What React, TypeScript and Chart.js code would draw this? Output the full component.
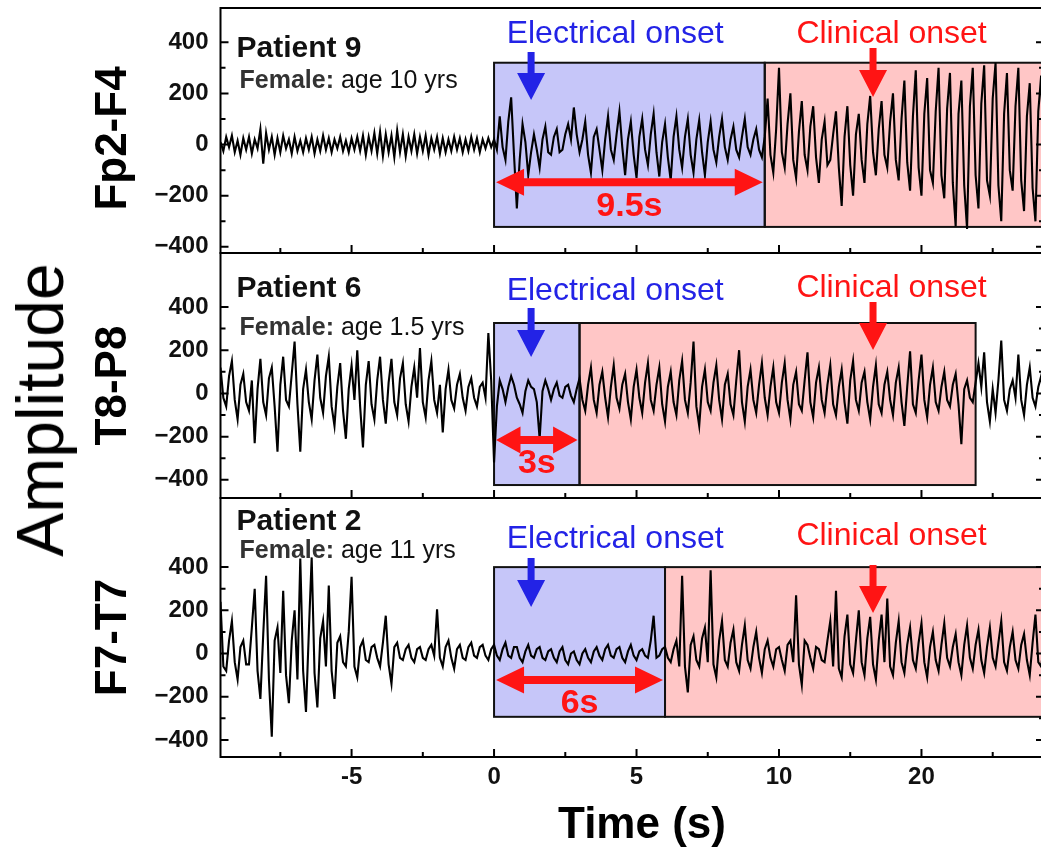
import React, { useEffect, useRef } from 'react';
import { Chart, registerables } from 'chart.js';

Chart.register(...registerables);

const FONT = '"Liberation Sans", Arial, Helvetica, sans-serif';

// ---- sampling of the traces (seconds) ----
const T_START = -9.6;
const T_STEP = 0.1;

// ---- EEG traces (amplitude) ----
const fp2f4 = [
  10, -25, 30, -10, 35, -30, 15, -40, 25, -20,
  30, -35, 20, -15, 60, -75, 45, -20, 30, -40,
  25, -30, 35, -15, 20, -35, 30, -25, 15, -30,
  25, -20, 30, -35, 20, -25, 35, -20, 25, -30,
  20, -15, 30, -25, 15, -30, 25, -20, 30, -25,
  35, -40, 30, -25, 45, -35, 50, -45, 40, -30,
  35, -50, 55, -30, 40, -45, 30, -25, 40, -35,
  30, -25, 35, -40, 25, -20, 30, -35, 25, -30,
  20, -25, 30, -20, 25, -30, 20, -25, 30, -20,
  25, -30, 20, -15, 25, -10,
  20, -20, 110, -10, -60, 90, 185, -40, -250, -60,
  80, 10, -120, -30, 40, -20, -90, 20, 70, -30,
  -40, 30, 60, -30, -20, 40, 80, 20, 145, 40,
  -30, 20, 90, -40, -110, 30, 60, -20, -100, 20,
  110, -20, -60, 40, 130, -10, -120, 20, 90, -40,
  -130, 30, 100, -20, -80, 40, 120, -30, -125, 10,
  80, -50, -140, 30, 110, -20, -90, 30, 100, -40,
  -110, 20, 95, -30, -120, 10, 90, -20, -70, 30,
  100, -10, -60, 20, 70, -20, -50, 30, 100, -10,
  -40, 20, 60, -20, -50, 30,
  180, -40, -110, 60, 300, -30, -90, 80, 200, -60,
  -130, 50, 170, -40, -100, 70, 150, -50, -150, 20,
  90, -80, -60, 40, 130, -90, -240, 30, 150, -80,
  -200, 40, 120, -60, -150, 80, 190, -30, -120, 60,
  170, -40, -90, 90, 200, -60, -140, 100, 250, -70,
  -180, 110, 290, -90, -200, 120, 260, -100, -150, 130,
  300, -120, -210, 140, 280, -150, -320, 120, 250, -160,
  -330, 150, 300, -120, -250, 160, 310, -140, -200, 180,
  320, -160, -300, 120, 280, -100, -180, 150, 300, -140,
  -260, 110, 240, -170, -300, 130, 270, -90, -150,
];
const t8p8 = [
  120, -20, -60, 80, 150, -30, -120, 40, 90, -40,
  -80, 60, -230, 20, 160, -40, -100, 70, 120, -60,
  -270, 40, 170, -30, -60, 90, 240, -50, -270, 20,
  110, -40, -120, 60, 180, -20, -90, 80, 170, -60,
  -150, 30, 140, -80, -210, 20, 130, -30, 200, -60,
  -250, 40, 150, -50, -120, 60, 170, -30, -140, 50,
  160, -40, -100, 70, 140, -50, -130, 30, 120, -20,
  210, -40, -110, 60, 150, -30, -90, 40, -180, 20,
  110, -30, -70, 40, 90, -20, -80, 30, 70, -20,
  -60, 30, 50, -20, 280, 60,
  -320, -60, 60, 20, -40, 30, 80, 40, -20, -50,
  -90, 10, 60, 30, 20, -40, -210, 10, 60, 20,
  -30, 20, 50, -10, -20, 30, 40, -10, -40, 20,
  70, -30, -80, 40, 120, -30, -90, 40, 100, -20,
  -110, 30, 130, -20, -70, 40, 90, -40, -120, 30,
  110, -20, -90, 50, 140, -30, -80, 40, 120, -50,
  -130, 30, 100, -40, -100, 60, 150, -30, -90, 50,
  240, -60, -150, 30, 110, -40, -80, 50, 130, -30,
  -120, 40, 90, -50, -100, 60, 200, -40, -130, 30,
  110, -30, -90, 40, 140, -20,
  -100, 30, 120, -40, -90, 50, 140, -30, -120, 40,
  100, -50, -80, 60, 190, -40, -110, 50, 120, -30,
  -90, 40, 130, -50, -100, 30, 110, -40, -140, 60,
  150, -30, -80, 50, 100, -40, -120, 30, 130, -50,
  -90, 40, 100, -30, -100, 50, 120, -40, -150, 30,
  195, -50, -90, 60, 180, -30, -110, 40, 120, -40,
  -80, 30, 100, -30, -60, 40, 90, -50, -235, 20,
  60, -20, -40, 50, 140, 30, 190, -40, -130, 20,
  -90, 60, 245, -30, -80, 20, 60, -20, 180, -30,
  -100, 40, 120, -20, -60, 30, 80, -20, -40,
];
const f7t7 = [
  240, -60, -80, 60, 150, -40, -120, 30, 60, -50,
  -50, 120, 300, -80, -210, 90, 360, -120, -385, 60,
  120, -90, 290, -100, -230, 60, 200, -120, 440, -80,
  -270, 100, 445, -90, -250, 70, 150, -60, 315, -80,
  -210, 50, 80, -40, -60, 100, 355, -60, -110, 30,
  60, -30, -40, 30, 40, -20, -60, 50, 175, -50,
  -140, 30, 50, -20, -30, 20, 40, -20, -40, 20,
  30, -20, -30, 20, 40, -10, 205, -20, -60, 30,
  60, -20, -70, 20, 40, -20, -30, 30, 50, -10,
  -20, 30, 40, -10, -30, 20,
  40, -10, -30, 20, 50, -10, -20, 30, 30, -20,
  -40, 10, 40, -10, -20, 20, 30, -20, -30, 10,
  20, -20, -40, 10, 30, -30, -50, 0, 10, -30,
  -50, 0, 20, -20, -40, 10, 30, -10, -30, 20,
  40, -10, -20, 20, 30, -20, -40, 10, 40, -10,
  -30, 10, 20, -10, -20, 60, 175, -20, -10, 20,
  30, -20, -40, 20, 60, -60, 360, -60, -180, 40,
  80, -30, -60, 70, 120, -40, 385, -50, -110, 60,
  150, -30, -60, 50, 110, -40, -80, 40, 130, -30,
  -70, 30, 100, -20, -90, 20,
  60, -20, -60, 20, 30, -30, -80, 40, 60, -40,
  270, -50, -145, 60, 40, -20, -70, 30, 20, -30,
  -40, 60, 150, -60, 290, -70, -110, 80, 180, -50,
  -90, 60, 200, -40, -100, 70, 170, -50, -120, 60,
  180, -40, 255, -60, -100, 50, 150, -40, -90, 40,
  120, -30, -70, 50, 140, -40, -110, 30, 100, -30,
  -80, 40, 140, -20, -60, 30, 90, -40, -100, 40,
  130, -20, -70, 40, 110, -30, -90, 30, 120, -20,
  -60, 50, 150, -40, -80, 30, 100, -30, -70, 40,
  90, -30, -100, 50, 180, -40, -60, 40, 120,
];

// ---- panel descriptions ----
const channelNames = ['Fp2-F4', 'T8-P8', 'F7-T7'];
const patientNames = ['Patient 9', 'Patient 6', 'Patient 2'];
const patientSex = ['Female:', 'Female:', 'Female:'];
const patientAges = ['age 10 yrs', 'age 1.5 yrs', 'age 11 yrs'];
const electricalLabel = 'Electrical onset';
const clinicalLabel = 'Clinical onset';
const delaySeconds = [9.5, 3, 6];
const delayLabels = ['9.5s', '3s', '6s'];
const clinicalBoxEnd = [20, 16.9, 20];
const boxTopValues = [320, 326, 400];
const boxBottomValues = [-322, -424, -293];
const delayArrowValues = [-147, -215, -123];
const electricalArrowTimes = [1.3, 1.3, 1.3];
const clinicalArrowTimes = [13.3, 13.3, 13.3];

// ---- axes ----
const yMinValues = [-424, -484, -479];
const yMaxValues = [534, 650, 720];
const yMajorTicks = [-400, -200, 0, 200, 400];
const yMinorTicks = [-300, -100, 100, 300];
const xMajorTicks = [-5, 0, 5, 10, 15];
const xTickLabels = ['-5', '0', '5', '10', '20'];
const xMinorTicks = [-7.5, -2.5, 2.5, 7.5, 12.5, 17.5];
const X_MIN = -9.6;
const X_MAX = 19.3;
const xTitle = 'Time (s)';
const yTitle = 'Amplitude';

// ---- layout / style (pixels) ----
const LAYOUT = {
  panelWeights: [245, 245, 259],
  textLeft: 16,
  patientBase: [48.7, 43.7, 32],
  sexBase: [80.3, 82, 60.3],
  elecBase: [35.3, 47, 50.3],
  clinBase: [35.3, 43.7, 47],
  elecArrow: [[44, 92], [55, 104], [60, 109]],
  clinArrow: [[40, 89], [49, 97], [67, 115]],
  elecLabelT: 4.25,
  clinLabelT: 13.95,
  channelX: 114,
  channelDy: [8, 10, 10],
  xTitleX: 642,
  xTitleBase: 838,
};
const BLUE_FILL = '#c6c6f9';
const PINK_FILL = '#ffc6c6';
const BLUE = '#2323e6';
const RED = '#ff1414';

function downArrow(ctx: CanvasRenderingContext2D, x: number, y0: number, y1: number, color: string) {
  const hl = 27, hw = 14, sw = 3.5;
  ctx.fillStyle = color;
  ctx.beginPath();
  ctx.moveTo(x - sw, y0);
  ctx.lineTo(x + sw, y0);
  ctx.lineTo(x + sw, y1 - hl);
  ctx.lineTo(x + hw, y1 - hl);
  ctx.lineTo(x, y1);
  ctx.lineTo(x - hw, y1 - hl);
  ctx.lineTo(x - sw, y1 - hl);
  ctx.closePath();
  ctx.fill();
}

function doubleArrow(ctx: CanvasRenderingContext2D, xa: number, xb: number, y: number, color: string) {
  const hl = Math.min(28, (xb - xa) * 0.3), hh = 13.5, sh = 4;
  ctx.fillStyle = color;
  ctx.beginPath();
  ctx.moveTo(xa, y);
  ctx.lineTo(xa + hl, y - hh);
  ctx.lineTo(xa + hl, y - sh);
  ctx.lineTo(xb - hl, y - sh);
  ctx.lineTo(xb - hl, y - hh);
  ctx.lineTo(xb, y);
  ctx.lineTo(xb - hl, y + hh);
  ctx.lineTo(xb - hl, y + sh);
  ctx.lineTo(xa + hl, y + sh);
  ctx.lineTo(xa + hl, y + hh);
  ctx.closePath();
  ctx.fill();
}

const eegPlugin = {
  id: 'eegAnnotations',
  beforeDatasetsDraw(chart: any) {
    const { ctx, chartArea: ca, scales } = chart;
    const xs = scales.x;
    ctx.save();
    ctx.beginPath();
    ctx.rect(ca.left, ca.top, ca.right - ca.left, ca.bottom - ca.top);
    ctx.clip();
    for (let p = 0; p < 3; p++) {
      const ys = scales['y' + p];
      const x0 = xs.getPixelForValue(0);
      const x1 = xs.getPixelForValue(delaySeconds[p]);
      const x2 = xs.getPixelForValue(clinicalBoxEnd[p]);
      const yt = ys.getPixelForValue(boxTopValues[p]);
      const yb = ys.getPixelForValue(boxBottomValues[p]);
      ctx.fillStyle = BLUE_FILL;
      ctx.fillRect(x0, yt, x1 - x0, yb - yt);
      ctx.fillStyle = PINK_FILL;
      ctx.fillRect(x1, yt, x2 - x1, yb - yt);
      ctx.strokeStyle = '#111';
      ctx.lineWidth = 2;
      ctx.strokeRect(x0, yt, x1 - x0, yb - yt);
      ctx.strokeRect(x1, yt, x2 - x1, yb - yt);
    }
    ctx.restore();
  },
  afterDatasetsDraw(chart: any) {
    const { ctx, chartArea: ca, scales } = chart;
    const xs = scales.x;
    ctx.save();
    for (let p = 0; p < 3; p++) {
      const ys = scales['y' + p];
      const top = ys.top;
      const bottom = ys.bottom;
      // frame
      ctx.strokeStyle = '#000';
      ctx.lineWidth = 2;
      ctx.strokeRect(ca.left, top, ca.right - ca.left, bottom - top);
      // ticks (inward)
      ctx.beginPath();
      xMajorTicks.forEach((v) => {
        const px = xs.getPixelForValue(v);
        ctx.moveTo(px, bottom);
        ctx.lineTo(px, bottom - 8);
      });
      xMinorTicks.forEach((v) => {
        const px = xs.getPixelForValue(v);
        ctx.moveTo(px, bottom);
        ctx.lineTo(px, bottom - 5);
      });
      yMajorTicks.forEach((v) => {
        const py = ys.getPixelForValue(v);
        ctx.moveTo(ca.left, py);
        ctx.lineTo(ca.left + 8, py);
        ctx.moveTo(ca.right, py);
        ctx.lineTo(ca.right - 8, py);
      });
      yMinorTicks.forEach((v) => {
        const py = ys.getPixelForValue(v);
        ctx.moveTo(ca.left, py);
        ctx.lineTo(ca.left + 5, py);
        ctx.moveTo(ca.right, py);
        ctx.lineTo(ca.right - 5, py);
      });
      ctx.stroke();

      // channel name (rotated)
      ctx.save();
      ctx.translate(LAYOUT.channelX, (top + bottom) / 2 + LAYOUT.channelDy[p]);
      ctx.rotate(-Math.PI / 2);
      ctx.font = `bold 44px ${FONT}`;
      ctx.fillStyle = '#000';
      ctx.textAlign = 'center';
      ctx.textBaseline = 'middle';
      ctx.fillText(channelNames[p], 0, 0);
      ctx.restore();

      // patient text
      const tx = ca.left + LAYOUT.textLeft;
      ctx.textAlign = 'left';
      ctx.textBaseline = 'alphabetic';
      ctx.font = `bold 30px ${FONT}`;
      ctx.fillStyle = '#111';
      ctx.fillText(patientNames[p], tx, top + LAYOUT.patientBase[p]);
      ctx.font = `bold 25px ${FONT}`;
      ctx.fillStyle = '#333';
      ctx.fillText(patientSex[p], tx + 3, top + LAYOUT.sexBase[p]);
      const w = ctx.measureText(patientSex[p]).width;
      ctx.font = `25px ${FONT}`;
      ctx.fillStyle = '#111';
      ctx.fillText(' ' + patientAges[p], tx + 3 + w, top + LAYOUT.sexBase[p]);

      // onset labels
      ctx.textAlign = 'center';
      ctx.font = `32px ${FONT}`;
      ctx.fillStyle = BLUE;
      ctx.fillText(electricalLabel, xs.getPixelForValue(LAYOUT.elecLabelT), top + LAYOUT.elecBase[p]);
      ctx.fillStyle = RED;
      ctx.fillText(clinicalLabel, xs.getPixelForValue(LAYOUT.clinLabelT), top + LAYOUT.clinBase[p]);

      // onset arrows
      downArrow(ctx, xs.getPixelForValue(electricalArrowTimes[p]), top + LAYOUT.elecArrow[p][0], top + LAYOUT.elecArrow[p][1], BLUE);
      downArrow(ctx, xs.getPixelForValue(clinicalArrowTimes[p]), top + LAYOUT.clinArrow[p][0], top + LAYOUT.clinArrow[p][1], RED);

      // delay arrow + label
      const ya = ys.getPixelForValue(delayArrowValues[p]);
      const xa = xs.getPixelForValue(0) + 2;
      const xb = xs.getPixelForValue(delaySeconds[p]) - 2;
      doubleArrow(ctx, xa, xb, ya, RED);
      ctx.font = `bold 34px ${FONT}`;
      ctx.fillStyle = RED;
      ctx.textBaseline = 'middle';
      ctx.fillText(delayLabels[p], (xa + xb) / 2, ya + 24);
    }
    // x title
    ctx.font = `bold 44px ${FONT}`;
    ctx.fillStyle = '#000';
    ctx.textAlign = 'center';
    ctx.textBaseline = 'alphabetic';
    ctx.fillText(xTitle, LAYOUT.xTitleX, LAYOUT.xTitleBase);
    ctx.restore();
  },
};

export default function App() {
  const ref = useRef<HTMLCanvasElement | null>(null);

  useEffect(() => {
    if (!ref.current) return;
    const series = [fp2f4, t8p8, f7t7];
    const datasets = series.map((vals, p) => ({
      label: channelNames[p],
      yAxisID: 'y' + p,
      data: vals.map((v, i) => ({ x: T_START + i * T_STEP, y: v })),
      borderColor: '#000',
      borderWidth: 2.1,
      pointRadius: 0,
      tension: 0,
      fill: false,
    }));

    const yScale = (p: number) => ({
      type: 'linear',
      position: 'left',
      stack: 'eeg',
      stackWeight: LAYOUT.panelWeights[p],
      min: yMinValues[p],
      max: yMaxValues[p],
      afterBuildTicks: (s: any) => {
        s.ticks = yMajorTicks.map((v) => ({ value: v }));
      },
      afterFit: (s: any) => {
        s.width = 220.5;
        s.paddingTop = 0;
        s.paddingBottom = 0;
      },
      grid: { display: false, drawTicks: false },
      border: { display: false },
      ticks: {
        color: '#111',
        padding: 12,
        font: { family: FONT, size: 24, weight: 'bold' },
        callback: (v: number) => (v < 0 ? '\u2212' + Math.abs(v) : String(v)),
      },
    });

    const chart = new Chart(ref.current, {
      type: 'line',
      data: { datasets } as any,
      options: {
        responsive: false,
        animation: false,
        events: [],
        layout: { padding: { top: 8, left: 0, right: 2, bottom: 0 } },
        plugins: { legend: { display: false }, tooltip: { enabled: false } },
        scales: {
          x: {
            type: 'linear',
            min: X_MIN,
            max: X_MAX,
            position: 'bottom',
            afterBuildTicks: (s: any) => {
              s.ticks = xMajorTicks.map((v) => ({ value: v }));
            },
            afterFit: (s: any) => {
              s.height = 90;
              s.paddingLeft = 0;
              s.paddingRight = 0;
            },
            grid: { display: false, drawTicks: false },
            border: { display: false },
            ticks: {
              color: '#111',
              padding: 6,
              maxRotation: 0,
              font: { family: FONT, size: 24, weight: 'bold' },
              callback: (v: number) => {
                const k = xMajorTicks.indexOf(v);
                return k >= 0 ? xTickLabels[k] : '';
              },
            },
          },
          y2: yScale(2),
          y1: yScale(1),
          y0: yScale(0),
        } as any,
      },
      plugins: [eegPlugin],
    } as any);
    return () => chart.destroy();
  }, []);

  return (
    <div style={{ position: 'fixed', left: 0, top: 0, width: 1041, height: 847, overflow: 'hidden', background: '#fff' }}>
      <canvas ref={ref} width={1046} height={847} style={{ position: 'absolute', left: 0, top: 0, display: 'block' }} />
      <div
        style={{
          position: 'absolute',
          left: 40,
          top: 410,
          transform: 'translate(-50%, -50%) rotate(-90deg)',
          font: `66px ${FONT}`,
          lineHeight: 1,
          whiteSpace: 'nowrap',
          color: '#000',
        }}
      >
        {yTitle}
      </div>
    </div>
  );
}
